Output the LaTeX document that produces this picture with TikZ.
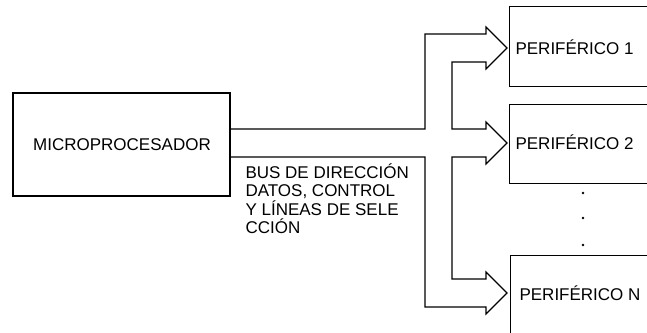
\documentclass[tikz,border=0pt]{standalone}
\usepackage{fontspec}
\setmainfont{Liberation Sans}
\begin{document}
\begin{tikzpicture}[x=1pt,y=-1pt,
  line width=1.1pt,
  box/.style={draw,rectangle,inner sep=0pt},
  lbl/.style={font=\fontsize{17}{18.4}\selectfont,inner sep=0pt},
  dotmark/.style={circle,fill,inner sep=0pt,minimum size=2.6pt}]
\useasboundingbox (0,0) rectangle (647,332);
\clip (0,0) rectangle (647,332);
% processor
\node[box,minimum width=217pt,minimum height=103pt] (micro) at (121.5,144.5) {};
\node[lbl] (microt) at (122,145) {MICROPROCESADOR};
% peripherals
\node[box,minimum width=191pt,minimum height=80pt,anchor=north west] (p1) at (509,6) {};
\node[box,minimum width=191pt,minimum height=79pt,anchor=north west] (p2) at (509,104) {};
\node[box,minimum width=191pt,minimum height=100pt,anchor=north west] (pn) at (510,255) {};
\node[lbl,anchor=west] (p1t) at (515,47) {PERIFÉRICO 1};
\node[lbl,anchor=west] (p2t) at (515,142) {PERIFÉRICO 2};
\node[lbl,anchor=west] (pnt) at (519,293) {PERIFÉRICO N};
% dots
\node[dotmark] (d1) at (583,193) {};
\node[dotmark] (d2) at (583,218) {};
\node[dotmark] (d3) at (583,245) {};
% bus outline
\coordinate (busa) at (micro.east |- 0,129);
\coordinate (busb) at (micro.east |- 0,157);
\draw[line join=miter]
  (busa) -- (425,129) -- (425,34) -- (486,34) -- (486,27) -- (507,48) -- (486,69) -- (486,62)
  -- (452,62) -- (452,129) -- (486,129) -- (486,122) -- (507,143) -- (486,164) -- (486,157)
  -- (452,157) -- (452,279) -- (486,279) -- (486,272) -- (507,293) -- (486,314) -- (486,307)
  -- (425,307) -- (425,157) -- (busb);
% bus label
\node[lbl,align=left,anchor=north west] (buslbl) at (245,163)
  {BUS DE DIRECCIÓN\\DATOS, CONTROL\\Y LÍNEAS DE SELE\\CCIÓN};
\end{tikzpicture}
\end{document}
